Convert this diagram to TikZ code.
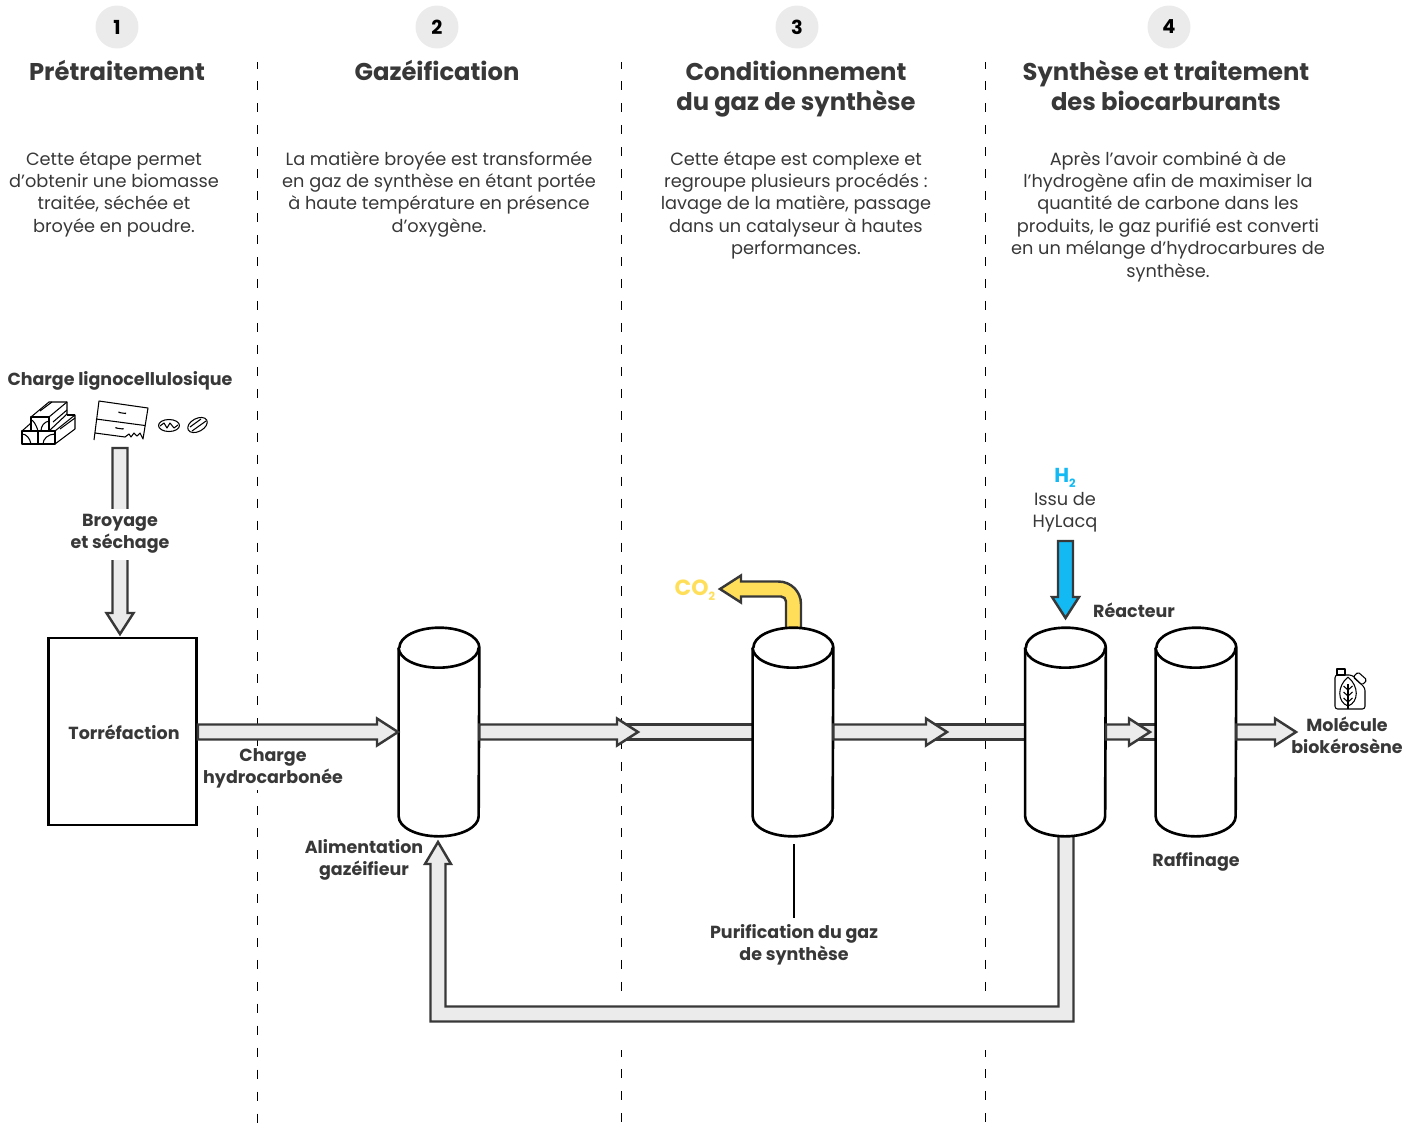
\documentclass[tikz,border=0pt]{standalone}
\usepackage{fontspec}
\setmainfont{Poppins}
\usetikzlibrary{calc}
\definecolor{ink}{HTML}{383838}
\definecolor{flowfill}{HTML}{EBEBEB}
\definecolor{badge}{HTML}{EBEBEB}
\definecolor{hydro}{HTML}{12B9F2}
\definecolor{carbo}{HTML}{FFDF5A}
\tikzset{
	steptitle/.style={font=\fontsize{13.8}{17.1}\selectfont\bfseries, text=ink, align=center},
	stepbody/.style={font=\fontsize{10.1}{12.75}\selectfont, text=ink, align=center},
	lab/.style={font=\fontsize{9.95}{12.6}\selectfont\bfseries, text=ink, align=center},
	stepnum/.style={circle, fill=badge, minimum size=0.86cm, inner sep=0pt, font=\fontsize{11}{13}\selectfont\bfseries, text=black},
	vessel/.style={minimum width=1.6cm, minimum height=4.16cm, inner sep=0pt},
	vesselline/.style={draw=black, line width=1.5pt, fill=white},
	flowarrow/.style={draw=ink, line width=1.4pt, fill=flowfill, line join=miter},
	sep/.style={black, line width=1.1pt, dash pattern=on 5.2pt off 7.3pt, dash phase=1.5pt},
	icon/.style={black, line width=0.6pt, line join=round}
}
\def\halfw{0.15cm}
\def\headw{0.27cm}
\def\headl{0.42cm}
% horizontal block arrow, from one anchor to another
\newcommand{\hflow}[2]{
	\draw[flowarrow] let \p1=(#1), \p2=(#2) in
		(\x1,\y1+\halfw) -- (\x2-\headl,\y1+\halfw) -- (\x2-\headl,\y1+\headw) -- (\x2,\y1)
		-- (\x2-\headl,\y1-\headw) -- (\x2-\headl,\y1-\halfw) -- (\x1,\y1-\halfw) -- cycle;
}
% same band with no head
\newcommand{\hband}[2]{
	\draw[flowarrow] let \p1=(#1), \p2=(#2) in
		(\x1,\y1+\halfw) -- (\x2,\y1+\halfw) -- (\x2,\y1-\halfw) -- (\x1,\y1-\halfw) -- cycle;
}
% vertical block arrow going down
\newcommand{\vflow}[3][flowfill]{
	\draw[flowarrow, fill=#1] let \p1=(#2), \p2=(#3) in
		(\x1-\halfw,\y1) -- (\x1-\halfw,\y2+\headl) -- (\x1-\headw,\y2+\headl) -- (\x1,\y2)
		-- (\x1+\headw,\y2+\headl) -- (\x1+\halfw,\y2+\headl) -- (\x1+\halfw,\y1) -- cycle;
}
% upright drum
\newcommand{\drum}[2]{
	\node[vessel] (#1) at #2 {};
	\draw[vesselline] ($(#1.north west)+(0,20)$) -- ($(#1.south west)+(0,-20)$)
		arc[start angle=180, end angle=360, x radius=0.8cm, y radius=0.4cm]
		-- ($(#1.north east)+(0,20)$)
		arc[start angle=0, end angle=180, x radius=0.8cm, y radius=0.4cm];
	\draw[vesselline, fill=none] ($(#1.north west)+(0,20)$)
		arc[start angle=180, end angle=360, x radius=0.8cm, y radius=0.4cm];
}
\begin{document}
\begin{tikzpicture}[x=0.02cm,y=-0.02cm]
	\useasboundingbox (0,0) rectangle (1420,1127);
	% separators
	\foreach \x/\yb in {257.5/1127,621.5/993,985.5/993}{
		\draw[sep] (\x,62) -- (\x,\yb);
	}
	\foreach \x in {621.5,985.5}{
		\draw[sep] (\x,1050) -- (\x,1127);
	}
	% headers
	\foreach \n/\x in {1/117,2/437,3/797,4/1169}{
		\node[stepnum] (num\n) at (\x,27) {\n};
	}
	\node[steptitle] (title1) at (117,70) {Prétraitement};
	\node[steptitle] (title2) at (437,70) {Gazéification};
	\node[steptitle] (title3) at (796,89) {Conditionnement\\du gaz de synthèse};
	\node[steptitle] (title4) at (1166,85.5) {Synthèse et traitement\\des biocarburants};
	\node[stepbody, anchor=north] (body1) at (114,145) {Cette étape permet\\d’obtenir une biomasse\\traitée, séchée et\\broyée en poudre.};
	\node[stepbody, anchor=north] (body2) at (439,145) {La matière broyée est transformée\\en gaz de synthèse en étant portée\\à haute température en présence\\d’oxygène.};
	\node[stepbody, anchor=north] (body3) at (796,145) {Cette étape est complexe et\\regroupe plusieurs procédés :\\lavage de la matière, passage\\dans un catalyseur à hautes\\performances.};
	\node[stepbody, anchor=north] (body4) at (1168,145) {Après l’avoir combiné à de\\l’hydrogène afin de maximiser la\\quantité de carbone dans les\\produits, le gaz purifié est converti\\en un mélange d’hydrocarbures de\\synthèse.};
	% flow line positions
	\coordinate (gazin) at (398,732);
	\coordinate (pastgaz) at (638,732);
	\coordinate (band2) at (622,732);
	\coordinate (end2) at (760,732);
	\coordinate (pastcond) at (947,732);
	\coordinate (band3) at (930,732);
	\coordinate (end3) at (1032,732);
	\coordinate (pastsyn) at (1150,732);
	\coordinate (band4) at (1130,732);
	\coordinate (end4) at (1163,732);
	\coordinate (fuelout) at (1296,732);
	% bands behind the heads
	\hband{band2}{end2}
	\hband{band3}{end3}
	\hband{band4}{end4}
	% recycle loop
	\coordinate (loopin) at (438,842);
	\coordinate (loopout) at (1066,825);
	\draw[flowarrow] (1058.5,825) -- (1058.5,1006.5) -- (445.5,1006.5) -- (445.5,864) -- (451,864) -- (loopin)
		-- (425,864) -- (430.5,864) -- (430.5,1021.5) -- (1073.5,1021.5) -- (1073.5,825) -- cycle;
	% carbon dioxide
	\node[font=\fontsize{12.5}{14}\selectfont\bfseries, text=carbo] (codeux) at (695,590) {CO\raisebox{-3pt}{\fontsize{6.5}{7}\selectfont 2}};
	\coordinate (cobase) at (793.5,640);
	\coordinate (cotip) at (720,589);
	\draw[flowarrow, fill=carbo] let \p1=(cobase), \p2=(cotip) in
		(\x1+0.15cm,\y1) -- (\x1+0.15cm,\y2-0.3cm) arc[start angle=0, end angle=90, radius=0.45cm]
		-- (\x2+0.42cm,\y2+0.15cm) -- (\x2+0.42cm,\y2+0.27cm) -- (\x2,\y2) -- (\x2+0.42cm,\y2-0.27cm) -- (\x2+0.42cm,\y2-0.15cm)
		-- (\x1-0.25cm,\y2-0.15cm) arc[start angle=90, end angle=0, radius=0.1cm] -- (\x1-0.15cm,\y1) -- cycle;
	% main equipment
	\node[draw=black, line width=1.5pt, fill=white, minimum width=2.96cm, minimum height=3.74cm, inner sep=0pt] (torref) at (122.5,731.5) {};
	\node[lab] (torlab) at (124,732) {Torréfaction};
	\drum{gaz}{(439,732)}
	\drum{cond}{(793,732)}
	\drum{reac}{(1065.5,732)}
	\drum{raff}{(1196,732)}
	\hflow{torref.east |- gazin}{gazin}
	\hflow{gaz.east |- gazin}{pastgaz}
	\hflow{cond.east |- gazin}{pastcond}
	\hflow{reac.east |- gazin}{pastsyn}
	\hflow{raff.east |- gazin}{fuelout}
	% feedstock
	\node[lab] (charge) at (120,381) {Charge lignocellulosique};
	\coordinate (feedtop) at (120,448);
	\coordinate (feedend) at (120,634);
	\vflow{feedtop}{feedend}
	\node[lab, fill=white, minimum height=1.02cm, inner ysep=0pt] (broyage) at (120,534) {Broyage\\et séchage};
	% hydrogen
	\node[font=\fontsize{11.5}{13}\selectfont\bfseries, text=hydro] (hdeux) at (1065,478) {H\raisebox{-2.5pt}{\fontsize{6.5}{7}\selectfont 2}};
	\node[stepbody] (hylacq) at (1065,512) {Issu de\\HyLacq};
	\coordinate (htop) at (1065.5,541);
	\coordinate (hend) at (1065.5,618);
	\vflow[hydro]{htop}{hend}
	\node[lab] (reaclab) at (1134,610) {Réacteur};
	% labels
	\node[lab] (alim) at (364,860) {Alimentation\\gazéifieur};
	\node[lab, fill=white, inner sep=1pt] (chyd) at (273,768) {Charge\\ hydrocarbonée};
	\node[lab] (purif) at (794,945) {Purification du gaz\\de synthèse};
	\node[lab] (raflab) at (1196,862) {Raffinage};
	\node[lab] (biok) at (1347,735) {Molécule\\biokérosène};
	\coordinate (purtop) at (794,844);
	\draw[black, line width=0.9pt] (purtop) -- (purif.north -| purtop);
	\begin{scope}[icon]
		% logs
		\draw (22,431) rectangle (55,444);
		\draw (38,431) -- (38,444);
		\draw (22,431) -- (31,423);
		\draw (55,431) -- (75,415) -- (75,429) -- (55,444);
		\draw (67,415) -- (75,415);
		\draw (31,417) rectangle (49,431);
		\draw (31,417) -- (49,402) -- (67,402) -- (67,414);
		\draw (49,417) -- (67,402);
		\draw (49,431) -- (67,414);
		\foreach \a/\b/\c/\d in {40/411/52/402,53/422/67/410,60/429/75/418}{
			\draw (\a,\b) -- (\c,\d);
		}
		\draw (38,431) .. controls (36,424) and (33,420) .. (31,420);
		\draw (49,421) .. controls (44,422) and (41,426) .. (41,431);
		\draw (31,444) .. controls (30,438) and (26,434) .. (22,434);
		\draw (55,434) .. controls (48,434) and (43,439) .. (43,444);
		% furniture
		\draw (94,440) -- (99,401) -- (148,408) -- (143,439) -- (140,433) -- (137,436) -- (134,433) -- (131,437) -- (129,434) -- (125,437) -- (95,433);
		\draw (96,419) -- (145,425.5);
		\draw (119,411.5) -- (119,412.5) -- (125.5,413.5) -- (125.5,412.5);
		\draw (116,427) -- (116,428) -- (123,429) -- (123,428);
		% chips
		\draw (169,425.5) ellipse (10.5 and 6);
		\draw (160,426) -- (164,423) -- (167,428) -- (170,423) -- (174,428) -- (178,425);
		\draw[rotate around={28:(197.5,425)}] (197.5,425) ellipse (10.5 and 6.5);
		\draw (190,427) -- (201,419);
		\draw (192,431) -- (206,421);
		% jerrycan
		\draw[rounded corners=1.5pt] (1335,675) -- (1352,675) -- (1365,688) -- (1365,709) -- (1335,709) -- cycle;
		\draw (1337,669) rectangle (1345,675);
		\draw[rounded corners=1pt] (1358,672) -- (1367,680) -- (1362,685) -- (1353,677) -- cycle;
		\draw (1348,677) .. controls (1337,686) and (1337,702) .. (1348,706) .. controls (1359,702) and (1359,686) .. (1348,677);
		\draw (1348,684) -- (1348,709);
		\foreach \yy in {690,696,702}{
			\draw (1343.5,\yy-4) -- (1348,\yy) -- (1352.5,\yy-4);
		}
	\end{scope}
\end{tikzpicture}
\end{document}
